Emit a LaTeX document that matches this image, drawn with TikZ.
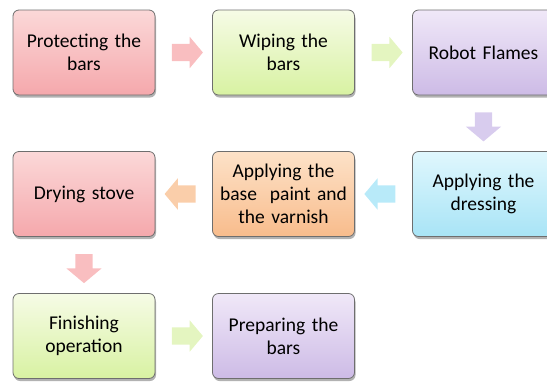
\documentclass[tikz,border=0pt]{standalone}
\usepackage{fontspec}
\setmainfont{Carlito}
\usetikzlibrary{shapes.arrows,shadows,calc}
\definecolor{pinkT}{HTML}{FBD8D8}\definecolor{pinkB}{HTML}{F5A8AC}
\definecolor{greenT}{HTML}{F6FBE6}\definecolor{greenB}{HTML}{D8F2A2}
\definecolor{purpT}{HTML}{F0E8F8}\definecolor{purpB}{HTML}{CDBBE6}
\definecolor{blueT}{HTML}{E0F7FD}\definecolor{blueB}{HTML}{A8E4F6}
\definecolor{orT}{HTML}{FDE2C8}\definecolor{orB}{HTML}{F8BC8C}
\definecolor{pinkA}{HTML}{F9BEC0}\definecolor{greenA}{HTML}{E4F5C0}
\definecolor{purpA}{HTML}{D8CCEE}\definecolor{blueA}{HTML}{B8EAF9}
\definecolor{orA}{HTML}{FACEAA}\definecolor{edgeC}{HTML}{6E6E6E}
\tikzset{
  stepbox/.style={rectangle, rounded corners=6pt, draw=edgeC, line width=0.8pt,
    minimum width=142pt, minimum height=85pt, text width=138pt, align=center,
    font=\fontsize{19.5}{23}\selectfont, inner sep=0pt,
    drop shadow={shadow xshift=1pt, shadow yshift=-2.5pt, opacity=0.3, fill=black}},
  pinkbox/.style={stepbox, top color=pinkT, bottom color=pinkB},
  greenbox/.style={stepbox, top color=greenT, bottom color=greenB},
  purpbox/.style={stepbox, top color=purpT, bottom color=purpB},
  bluebox/.style={stepbox, top color=blueT, bottom color=blueB},
  orbox/.style={stepbox, top color=orT, bottom color=orB},
  blockarrow/.style={single arrow, draw=none, minimum height=31pt, minimum width=31pt,
    inner sep=8.5pt, single arrow head extend=7pt, single arrow tip angle=100},
  rarrow/.style={blockarrow, shape border rotate=0},
  larrow/.style={blockarrow, shape border rotate=180},
  darrow/.style={blockarrow, shape border rotate=270, minimum height=29pt, minimum width=35pt, single arrow head extend=9pt},
}
\begin{document}
\begin{tikzpicture}[x=1pt,y=-1pt]
\useasboundingbox (0,0) rectangle (547,384);
\node[pinkbox]  (b1) at (84,52.5)   {Protecting the\\bars};
\node[greenbox] (b2) at (283.5,52.5) {Wiping the\\bars};
\node[purpbox]  (b3) at (483.5,52.5) {Robot Flames};
\node[bluebox]  (b4) at (483.5,194) {Applying the\\dressing};
\node[orbox]    (b5) at (283.5,194) {Applying the\\base\ \ paint and\\the varnish};
\node[pinkbox]  (b6) at (84,194)    {Drying stove};
\node[greenbox] (b7) at (84,336)    {Finishing\\operation};
\node[purpbox]  (b8) at (283.5,336) {Preparing the\\bars};
\node[rarrow, fill=pinkA]  (a12) at ($(b1.east)!0.5!(b2.west)$) {};
\node[rarrow, fill=greenA] (a23) at ($(b2.east)!0.5!(b3.west)$) {};
\node[darrow, fill=purpA]  (a34) at ($(b3.south)!0.5!(b4.north)$) {};
\node[larrow, fill=blueA]  (a45) at ($(b4.west)!0.5!(b5.east)$) {};
\node[larrow, fill=orA]    (a56) at ($(b5.west)!0.5!(b6.east)$) {};
\node[darrow, fill=pinkA]  (a67) at ($(b6.south)!0.5!(b7.north)$) {};
\node[rarrow, fill=greenA] (a78) at ($(b7.east)!0.5!(b8.west)$) {};
\end{tikzpicture}
\end{document}
